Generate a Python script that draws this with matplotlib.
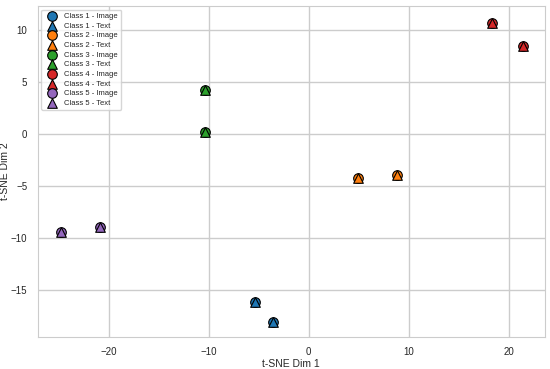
import matplotlib
matplotlib.use('Agg')
import matplotlib.pyplot as plt
import seaborn as sns

sns.set_theme(style="whitegrid")
plt.rcParams['font.family'] = ['Arial', 'Liberation Sans', 'DejaVu Sans']

# t-SNE embedding, one image point and one text point per class
CLASSES = ["Class 1", "Class 2", "Class 3", "Class 4", "Class 5"]
COLORS = ["#1f77b4", "#ff7f0e", "#2ca02c", "#d62728", "#9467bd"]
IMG_X = [[-5.4, -3.6], [4.9, 8.8], [-10.4, -10.4], [18.3, 21.4], [-24.8, -20.9]]
IMG_Y = [[-16.1, -18.1], [-4.2, -3.9], [4.2, 0.2], [10.7, 8.4], [-9.4, -8.9]]
TXT_X = IMG_X
TXT_Y = IMG_Y

fig = plt.figure(figsize=(5.5, 3.69), dpi=100)
ax = fig.add_axes([0.0685, 0.087, 0.922, 0.897])

for name, col, ix, iy, tx, ty in zip(CLASSES, COLORS, IMG_X, IMG_Y, TXT_X, TXT_Y):
    ax.scatter(ix, iy, s=48, c=col, marker='o', edgecolors='black',
               linewidths=0.8, label=f"{name} - Image", zorder=3)
    ax.scatter(tx, ty, s=48, c=col, marker='^', edgecolors='black',
               linewidths=0.8, label=f"{name} - Text", zorder=4)

ax.set_xlim(-27.1, 23.6)
ax.set_ylim(-19.5, 12.3)
ax.set_xticks([-20, -10, 0, 10, 20])
ax.set_yticks([-15, -10, -5, 0, 5, 10])
ax.tick_params(labelsize=7, pad=1.5)
ax.set_xlabel("t-SNE Dim 1", fontsize=7.5, labelpad=1)
ax.set_ylabel("t-SNE Dim 2", fontsize=7.5, labelpad=0.5)
for sp in ax.spines.values():
    sp.set_linewidth(0.8)

ax.legend(loc='upper left', fontsize=5.5, markerscale=1.0, labelspacing=0.3,
          borderaxespad=0.5, handletextpad=0.6, frameon=True)

fig.savefig("out.png", dpi=100)
